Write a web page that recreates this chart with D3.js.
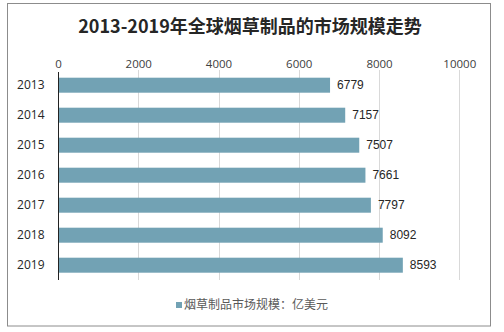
<!DOCTYPE html>
<html><head><meta charset="utf-8">
<script src="https://cdn.jsdelivr.net/npm/d3@7"></script>
<style>body{margin:0;background:#fff}svg{display:block}</style>
</head><body>
<script>
const title = "2013-2019年全球烟草制品的市场规模走势";
const years = ["2013","2014","2015","2016","2017","2018","2019"];
const values = [6779, 7157, 7507, 7661, 7797, 8092, 8593];
const xTicks = [0, 2000, 4000, 6000, 8000, 10000];
const legendLabel = "烟草制品市场规模：亿美元";

const W = 504, H = 332;
const svg = d3.select("body").append("svg").attr("width", W).attr("height", H);
svg.append("rect").attr("width", W).attr("height", H).attr("fill", "#fff");
svg.append("rect").attr("x", 7.5).attr("y", 3.5).attr("width", 483).attr("height", 322.5)
  .attr("fill", "none").attr("stroke", "#8c8c8c").attr("stroke-width", 1);

const x = d3.scaleLinear().domain([0, 10000]).range([58, 459.3]);
const y = d3.scaleBand().domain(years).range([70.2, 280.2]).paddingInner(0.5).paddingOuter(0.25);

svg.append("text").attr("x", 250).attr("y", 33).attr("text-anchor", "middle")
  .attr("font-family", "'Noto Sans CJK SC', sans-serif").attr("font-weight", "bold")
  .attr("font-size", 18).attr("fill", "#262626").text(title);

// gridlines
svg.append("g").selectAll("line").data(xTicks.slice(1)).join("line")
  .attr("x1", d => Math.round(x(d)) + 0.5).attr("x2", d => Math.round(x(d)) + 0.5)
  .attr("y1", 70).attr("y2", 280).attr("stroke", "#d9d9d9").attr("stroke-width", 1);

// top axis
const xAxis = svg.append("g").attr("transform", "translate(0,70)")
  .call(d3.axisTop(x).tickValues(xTicks).tickSize(0).tickPadding(0).tickFormat(d3.format("d")));
xAxis.select(".domain").remove();
xAxis.selectAll("text").attr("y", -2).attr("font-family", "'Open Sans', sans-serif")
  .attr("font-size", 11.5).attr("fill", "#404040");

// bars
svg.append("g").selectAll("rect").data(values).join("rect")
  .attr("x", x(0)).attr("y", (d, i) => y(years[i]))
  .attr("width", d => x(d) - x(0)).attr("height", y.bandwidth())
  .attr("fill", "#72a2b4");

// left axis
const yAxis = svg.append("g").attr("transform", "translate(58.5,0)")
  .call(d3.axisLeft(y).tickSize(0).tickPadding(14));
yAxis.select(".domain").attr("d", "M0,72V280").attr("stroke", "#222");
yAxis.selectAll("text").attr("font-family", "'Open Sans', sans-serif")
  .attr("font-size", 12).attr("fill", "#262626");

// value labels
svg.append("g").selectAll("text").data(values).join("text")
  .attr("x", d => x(d) + 7).attr("y", (d, i) => y(years[i]) + y.bandwidth() / 2)
  .attr("dy", "0.35em").attr("font-family", "'Liberation Sans', Arial, sans-serif")
  .attr("font-size", 12).attr("fill", "#262626").text(d => d);

// legend
svg.append("rect").attr("x", 176).attr("y", 302).attr("width", 6).attr("height", 6).attr("fill", "#72a2b4");
svg.append("text").attr("x", 184).attr("y", 305).attr("dy", "0.35em")
  .attr("font-family", "'Noto Sans CJK SC', sans-serif").attr("font-size", 12)
  .attr("fill", "#595959").text(legendLabel);
</script>
</body></html>
